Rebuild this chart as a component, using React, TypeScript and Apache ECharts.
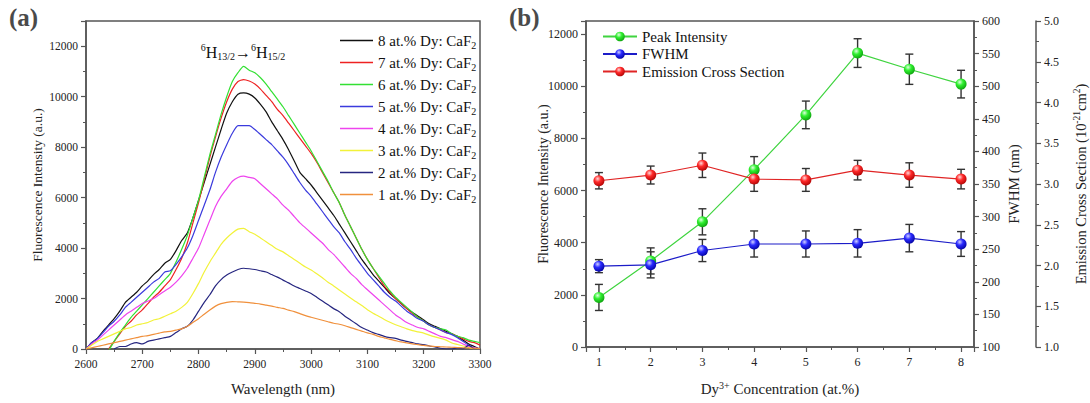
import React, { useEffect, useRef } from 'react';
import * as echarts from 'echarts';

const SERIF = 'Liberation Serif';

// ---------- Panel (a): spectra ----------
const WAVELENGTH = [
  2600, 2610, 2620, 2630, 2640, 2650, 2660, 2670, 2680, 2690,
  2700, 2710, 2720, 2730, 2740, 2750, 2760, 2770, 2780, 2790,
  2800, 2810, 2820, 2830, 2840, 2850, 2860, 2870, 2880, 2890,
  2900, 2910, 2920, 2930, 2940, 2950, 2960, 2970, 2980, 2990,
  3000, 3010, 3020, 3030, 3040, 3050, 3060, 3070, 3080, 3090,
  3100, 3110, 3120, 3130, 3140, 3150, 3160, 3170, 3180, 3190,
  3200, 3210, 3220, 3230, 3240, 3250, 3260, 3270, 3280, 3290,
  3300,
];

const DY8 = [
  0, 250, 420, 700, 950, 1200, 1500, 1850, 2050, 2250,
  2500, 2700, 2950, 3150, 3400, 3550, 3900, 4300, 4600, 5200,
  5900, 6600, 7300, 8000, 8700, 9350, 9800, 10100, 10150, 10100,
  9950, 9700, 9400, 9000, 8650, 8300, 7900, 7450, 7000, 6750,
  6500, 6200, 5900, 5600, 5300, 4950, 4600, 4250, 3900, 3550,
  3250, 2950, 2700, 2450, 2200, 2000, 1800, 1600, 1450, 1300,
  1150, 1000, 900, 800, 700, 600, 500, 350, 200, 100,
  0,
];
const DY7 = [
  null, null, null, null, 0, 300, 600, 900, 1100, 1350,
  1550, 1800, 2050, 2250, 2500, 2750, 3150, 3600, 4200, 5000,
  5800, 6700, 7600, 8400, 9150, 9800, 10300, 10600, 10680, 10620,
  10500, 10300, 10050, 9800, 9500, 9250, 8950, 8650, 8350, 8050,
  7750, 7400, 7000, 6600, 6200, 5800, 5300, 4850, 4400, 3950,
  3550, 3200, 2850, 2500, 2250, 2000, 1800, 1600, 1400, 1250,
  1100, 950, 850, 750, 650, 600, 500, 400, 300, 250,
  150,
];
const DY6 = [
  null, null, null, null, -80, 300, 650, 950, 1250, 1500,
  1750, 2000, 2250, 2500, 2750, 3000, 3450, 3950, 4500, 5200,
  5900, 6800, 7700, 8500, 9300, 10000, 10600, 10950, 11200, 11050,
  10950, 10750, 10500, 10200, 9900, 9600, 9250, 8900, 8550, 8200,
  7850, 7450, 7050, 6650, 6200, 5800, 5300, 4850, 4400, 3950,
  3550, 3200, 2900, 2600, 2300, 2050, 1850, 1650, 1450, 1250,
  1100, 950, 850, 800, 750, 600, 500, 450, 350, 300,
  250,
];
const DY5 = [
  0, 250, 400, 650, 900, 1100, 1350, 1650, 1850, 2050,
  2250, 2450, 2650, 2800, 3050, 3100, 3350, 3650, 4000, 4500,
  5100, 5700, 6300, 7000, 7600, 8100, 8550, 8850, 8850, 8850,
  8700, 8500, 8300, 8100, 7850, 7600, 7300, 6950, 6600, 6300,
  6050, 5750, 5450, 5150, 4850, 4600, 4250, 3950, 3600, 3300,
  3000, 2750, 2500, 2250, 2050, 1900, 1700, 1500, 1350, 1200,
  1100, 950, 850, 750, 650, 570, 450, 300, 150, 50,
  0,
];
const DY4 = [
  0, 200, 350, 550, 750, 950, 1150, 1350, 1500, 1650,
  1800, 1900, 2000, 2150, 2300, 2450, 2650, 2900, 3200, 3600,
  4000, 4550, 5100, 5650, 6050, 6350, 6650, 6800, 6850, 6800,
  6750, 6550, 6350, 6150, 5950, 5700, 5500, 5250, 5000, 4800,
  4600, 4400, 4200, 3950, 3750, 3500, 3250, 3000, 2800, 2550,
  2350, 2150, 1950, 1750, 1550, 1350, 1200, 1050, 950, 850,
  800, 700, 600, 500, 450, 370, 300, 200, 100, 50,
  0,
];
const DY3 = [
  0, 150, 300, 400, 500, 600, 700, 800, 850, 950,
  1000, 1050, 1150, 1200, 1300, 1400, 1500, 1650, 1850, 2200,
  2600, 3050, 3450, 3800, 4150, 4400, 4600, 4750, 4780, 4650,
  4550, 4400, 4250, 4100, 3950, 3850, 3700, 3550, 3400, 3250,
  3130, 2980, 2820, 2650, 2500, 2340, 2180, 2020, 1870, 1720,
  1560, 1420, 1300, 1170, 1060, 960, 880, 800, 730, 680,
  630, 550, 480, 420, 350, 240, 180, 120, 60, 0,
  0,
];
const DY2 = [
  null, null, null, null, null, 0, 100, 100, 200, 250,
  200, 300, 350, 400, 450, 500, 650, 800, 900, 1150,
  1500, 1850, 2150, 2500, 2750, 2930, 3050, 3150, 3200, 3180,
  3150, 3100, 3050, 2950, 2850, 2730, 2620, 2500, 2400, 2300,
  2200, 2050, 1900, 1750, 1600, 1480, 1300, 1150, 1000, 850,
  750, 650, 580, 500, 450, 420, 350, 300, 250, 200,
  170, 120, 80, 30, 0, 0, 50, 0, 150, 0,
  0,
];
const DY1 = [
  0, 50, 100, 150, 200, 250, 300, 350, 400, 450,
  500, 530, 580, 630, 680, 700, 750, 800, 900, 1050,
  1200, 1380, 1550, 1700, 1800, 1850, 1880, 1870, 1860, 1840,
  1810, 1780, 1740, 1700, 1650, 1610, 1540, 1480, 1400, 1320,
  1260, 1200, 1140, 1080, 1020, 980, 920, 850, 780, 710,
  640, 580, 500, 440, 380, 330, 280, 240, 200, 170,
  140, 120, 100, 90, 80, 70, 60, 50, 40, 30,
  20,
];

const SPECTRA = [
  { name: '8 at.% Dy: CaF2', color: '#111111', values: DY8 },
  { name: '7 at.% Dy: CaF2', color: '#ee2222', values: DY7 },
  { name: '6 at.% Dy: CaF2', color: '#33e033', values: DY6 },
  { name: '5 at.% Dy: CaF2', color: '#3b3bdd', values: DY5 },
  { name: '4 at.% Dy: CaF2', color: '#ee44ee', values: DY4 },
  { name: '3 at.% Dy: CaF2', color: '#f2f23a', values: DY3 },
  { name: '2 at.% Dy: CaF2', color: '#262680', values: DY2 },
  { name: '1 at.% Dy: CaF2', color: '#f0903c', values: DY1 },
];

// ---------- Panel (b): concentration dependence ----------
const CONC = [1, 2, 3, 4, 5, 6, 7, 8];
const PEAK = [1900, 3300, 4800, 6800, 8900, 11270, 10650, 10080];
const PEAK_ERR = [500, 500, 500, 500, 530, 550, 580, 530];
const FWHM = [224, 226, 248, 258, 258, 259, 267, 258];
const FWHM_ERR = [10, 20, 17, 20, 20, 21, 21, 19];
const ECS = [3.04, 3.11, 3.23, 3.06, 3.05, 3.17, 3.11, 3.06];
const ECS_ERR = [0.1, 0.11, 0.15, 0.15, 0.14, 0.12, 0.15, 0.12];

const ball = (hi: string, mid: string, dark: string) => ({
  type: 'radial', x: 0.38, y: 0.32, r: 0.75,
  colorStops: [
    { offset: 0, color: hi },
    { offset: 0.4, color: mid },
    { offset: 1, color: dark },
  ],
});

const axisLineStyle = { color: '#555', width: 1.5 };
const tickStyle = { length: 5, lineStyle: { color: '#555', width: 1.2 } };
const minorStyle = { show: true, splitNumber: 2, length: 3, lineStyle: { color: '#555', width: 1 } };
const labelA = { fontFamily: SERIF, fontSize: 11.5, color: '#222' };
const labelB = { fontFamily: SERIF, fontSize: 12, color: '#222' };
const plain = (v: number) => String(v);

export default function App() {
  const ref = useRef<HTMLDivElement>(null);
  useEffect(() => {
    if (!ref.current) return;
    const chart = echarts.init(ref.current, null, { renderer: 'svg' });

    const spectraSeries = SPECTRA.map((s) => ({
      type: 'line',
      name: s.name,
      xAxisIndex: 0,
      yAxisIndex: 0,
      data: WAVELENGTH.map((w, i) => [w, s.values[i]]),
      symbol: 'none',
      smooth: 0.2,
      lineStyle: { color: s.color, width: 1.2 },
      itemStyle: { color: s.color },
      clip: true,
    }));

    const errSeries = (name: string, yIdx: number, vals: number[], errs: number[]) => ({
      type: 'custom',
      name,
      xAxisIndex: 1,
      yAxisIndex: yIdx,
      z: 1,
      data: CONC.map((c, i) => [c, vals[i] - errs[i], vals[i] + errs[i]]),
      encode: { x: 0, y: [1, 2] },
      renderItem: (params: any, api: any) => {
        const x = api.value(0);
        const lo = api.coord([x, api.value(1)]);
        const hi = api.coord([x, api.value(2)]);
        const hw = 4;
        const st = { stroke: '#333', lineWidth: 1.4 };
        return {
          type: 'group',
          children: [
            { type: 'line', shape: { x1: lo[0], y1: lo[1], x2: hi[0], y2: hi[1] }, style: st },
            { type: 'line', shape: { x1: lo[0] - hw, y1: lo[1], x2: lo[0] + hw, y2: lo[1] }, style: st },
            { type: 'line', shape: { x1: hi[0] - hw, y1: hi[1], x2: hi[0] + hw, y2: hi[1] }, style: st },
          ],
        };
      },
    });

    const ptSeries = (name: string, yIdx: number, vals: number[], line: string, fill: any) => ({
      type: 'line',
      name,
      xAxisIndex: 1,
      yAxisIndex: yIdx,
      z: 3,
      data: CONC.map((c, i) => [c, vals[i]]),
      symbol: 'circle',
      symbolSize: 11,
      lineStyle: { color: line, width: 1.2 },
      itemStyle: { color: fill, borderWidth: 0 },
    });

    const option: any = {
      animation: false,
      backgroundColor: '#fff',
      textStyle: { fontFamily: SERIF },
      grid: [
        { left: 86, top: 21, width: 394, height: 328, show: true, borderColor: '#555', borderWidth: 1.5, backgroundColor: 'transparent' },
        { left: 586, top: 21, width: 388, height: 326, show: true, borderColor: '#555', borderWidth: 1.5, backgroundColor: 'transparent' },
      ],
      xAxis: [
        {
          type: 'value', gridIndex: 0, min: 2600, max: 3300, interval: 100,
          axisLine: { lineStyle: axisLineStyle },
          axisTick: tickStyle,
          minorTick: minorStyle,
          splitLine: { show: false },
          axisLabel: { ...labelA, margin: 9, formatter: plain },
          name: 'Wavelength (nm)', nameLocation: 'middle', nameGap: 32, nameMoveOverlap: false,
          nameTextStyle: { fontFamily: SERIF, fontSize: 15, color: '#222' },
        },
        {
          type: 'value', gridIndex: 1, min: 0.75, max: 8.25, splitNumber: 7,
          axisLine: { lineStyle: axisLineStyle },
          axisTick: tickStyle,
          minorTick: minorStyle,
          splitLine: { show: false },
          axisLabel: { ...labelB, margin: 9, showMinLabel: false, showMaxLabel: false,
            formatter: (v: number) => (Number.isInteger(v) ? String(v) : '') },
          name: 'Dy{sup|3+} Concentration (at.%)', nameLocation: 'middle', nameGap: 33, nameMoveOverlap: false,
          nameTextStyle: { fontFamily: SERIF, fontSize: 15, color: '#222',
            rich: { sup: { fontFamily: SERIF, fontSize: 10, color: '#222', padding: [0, 0, 8, 0] } } },
        },
      ],
      yAxis: [
        {
          type: 'value', gridIndex: 0, min: 0, max: 13000, interval: 2000,
          axisLine: { show: true, lineStyle: axisLineStyle },
          axisTick: { show: true, ...tickStyle },
          minorTick: minorStyle,
          splitLine: { show: false },
          axisLabel: { ...labelA, margin: 8, showMaxLabel: false, formatter: plain },
          name: 'Fluorescence Intensity (a.u.)', nameLocation: 'middle', nameGap: 42, nameRotate: 90, nameMoveOverlap: false,
          nameTextStyle: { fontFamily: SERIF, fontSize: 13.5, color: '#222' },
        },
        {
          type: 'value', gridIndex: 1, min: 0, max: 12500, interval: 2000,
          axisLine: { show: true, lineStyle: axisLineStyle },
          axisTick: { show: true, ...tickStyle },
          minorTick: minorStyle,
          splitLine: { show: false },
          axisLabel: { ...labelB, margin: 8, showMaxLabel: false, formatter: plain },
          name: 'Fluorescence Intensity (a.u.)', nameLocation: 'middle', nameGap: 36, nameRotate: 90, nameMoveOverlap: false,
          nameTextStyle: { fontFamily: SERIF, fontSize: 14, color: '#222' },
        },
        {
          type: 'value', gridIndex: 1, position: 'right', min: 100, max: 600, interval: 50,
          axisLine: { show: true, lineStyle: axisLineStyle },
          axisTick: { show: true, ...tickStyle },
          minorTick: minorStyle,
          splitLine: { show: false },
          axisLabel: { ...labelB, margin: 8, formatter: plain },
          name: 'FWHM (nm)', nameLocation: 'middle', nameGap: 32, nameRotate: 90, nameMoveOverlap: false,
          nameTextStyle: { fontFamily: SERIF, fontSize: 15, color: '#222' },
        },
        {
          type: 'value', gridIndex: 1, position: 'right', offset: 62, min: 1, max: 5, interval: 0.5,
          axisLine: { show: true, lineStyle: axisLineStyle },
          axisTick: { show: true, ...tickStyle },
          minorTick: minorStyle,
          splitLine: { show: false },
          axisLabel: { ...labelB, margin: 8, formatter: (v: number) => v.toFixed(1) },
          name: 'Emission Cross Section (10{sup|-21}cm{sup|2})', nameLocation: 'middle', nameGap: 36, nameRotate: 90, nameMoveOverlap: false,
          nameTextStyle: { fontFamily: SERIF, fontSize: 14.5, color: '#222',
            rich: { sup: { fontFamily: SERIF, fontSize: 9.5, color: '#222', padding: [0, 0, 8, 0] } } },
        },
      ],
      legend: [
        {
          data: SPECTRA.map((s) => s.name),
          orient: 'vertical', left: 335, top: 28, itemGap: 5,
          icon: 'rect', itemWidth: 33, itemHeight: 1.5,
          formatter: (n: string) => n.replace('CaF2', 'CaF{sub|2}'),
          textStyle: { fontFamily: SERIF, fontSize: 15, color: '#111',
            rich: { sub: { fontFamily: SERIF, fontSize: 10, color: '#111', padding: [9, 0, 0, 0] } } },
        },
        {
          data: ['Peak Intensity', 'FWHM', 'Emission Cross Section'],
          orient: 'vertical', left: 597, top: 24, itemGap: 2.5,
          itemWidth: 34, itemHeight: 12,
          textStyle: { fontFamily: SERIF, fontSize: 15, color: '#111' },
        },
      ],
      graphic: [
        { type: 'text', left: 9, top: 5, style: { text: '(a)', font: `bold 25px ${SERIF}`, fill: '#4a4a4a' } },
        { type: 'text', left: 509, top: 5, style: { text: '(b)', font: `bold 25px ${SERIF}`, fill: '#4a4a4a' } },
        {
          type: 'text', x: 243, y: 52,
          style: {
            text: '{sup|6}H{sub|13/2}→{sup|6}H{sub|15/2}',
            fontFamily: SERIF, fontSize: 16, fill: '#111', align: 'center', verticalAlign: 'middle',
            rich: {
              sup: { fontFamily: SERIF, fontSize: 10, fill: '#111', padding: [0, 0, 9, 0] },
              sub: { fontFamily: SERIF, fontSize: 10, fill: '#111', padding: [9, 0, 0, 0] },
            },
          },
        },
      ],
      series: [
        ...spectraSeries,
        errSeries('err-peak', 1, PEAK, PEAK_ERR),
        errSeries('err-fwhm', 2, FWHM, FWHM_ERR),
        errSeries('err-ecs', 3, ECS, ECS_ERR),
        ptSeries('Peak Intensity', 1, PEAK, '#3fd43f', ball('#e0ffe0', '#30f030', '#0a9a0a')),
        ptSeries('FWHM', 2, FWHM, '#1c1cc8', ball('#d0d0ff', '#2a2aff', '#00009a')),
        ptSeries('Emission Cross Section', 3, ECS, '#e02424', ball('#ffd8d8', '#ff2a2a', '#aa0000')),
      ],
    };
    chart.setOption(option);
    return () => chart.dispose();
  }, []);
  return <div ref={ref} style={{ position: 'fixed', left: 0, top: 0, width: 1090, height: 403 }} />;
}
